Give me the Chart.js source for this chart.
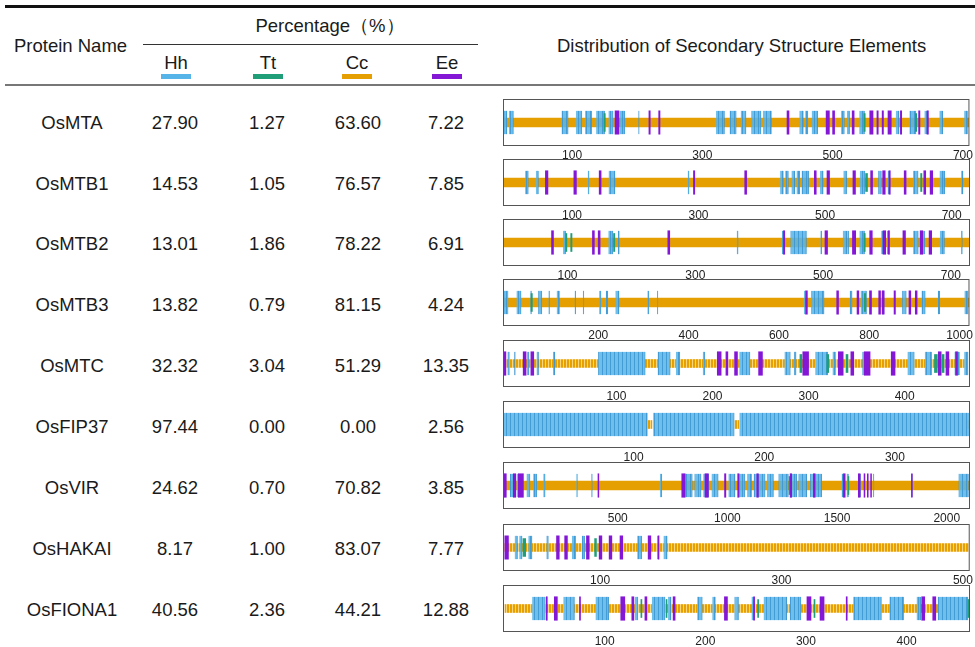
<!DOCTYPE html>
<html>
<head>
<meta charset="utf-8">
<script src="https://cdn.jsdelivr.net/npm/chart.js@4.4.1/dist/chart.umd.min.js"></script>
<style>
  body { margin: 0; background: #fff; font-family: "Liberation Sans", Arial, sans-serif; color: #1a1a1a; }
  #page { position: relative; width: 975px; height: 647px; overflow: hidden; }
  .abs { position: absolute; white-space: nowrap; }
  .cell { position: absolute; width: 120px; height: 20px; line-height: 20px; font-size: 18.5px; text-align: center; }
  .head { font-size: 18.5px; height: 20px; line-height: 20px; }
  .rule { position: absolute; }
  .sw { position: absolute; width: 30px; height: 5px; }
</style>
</head>
<body>
<div id="page">
  <div class="rule" style="left:5px;top:5px;width:970px;height:3px;background:#111;"></div>
  <div class="abs head" style="left:14px;top:36px;">Protein Name</div>
  <div class="abs head" style="left:240px;top:16px;width:180px;text-align:center;">Percentage（%）</div>
  <div class="rule" style="left:143px;top:44px;width:335px;height:1px;background:#333;"></div>
  <div class="abs head" style="left:557px;top:36px;">Distribution of Secondary Structure Elements</div>
  <div class="rule" style="left:5px;top:84px;width:970px;height:2px;background:#777;"></div>
</div>

<script>
// table values
const proteins = ['OsMTA', 'OsMTB1', 'OsMTB2', 'OsMTB3', 'OsMTC', 'OsFIP37', 'OsVIR', 'OsHAKAI', 'OsFIONA1'];
const hhPct = [27.90, 14.53, 13.01, 13.82, 32.32, 97.44, 24.62, 8.17, 40.56];
const ttPct = [1.27, 1.05, 1.86, 0.79, 3.04, 0.00, 0.70, 1.00, 2.36];
const ccPct = [63.60, 76.57, 78.22, 81.15, 51.29, 0.00, 70.82, 83.07, 44.21];
const eePct = [7.22, 7.85, 6.91, 4.24, 13.35, 2.56, 3.85, 7.77, 12.88];
const legendLabels = ['Hh', 'Tt', 'Cc', 'Ee'];

// residue ranges of each element, per protein
const mtaHelix = [[-5,0],[3,10],[84,94],[106,115],[120,130],[137,150],[156,163],[173,181],[202,203],[321,334],[342,352],[359,367],[375,390],[393,406],[449,455],[458,462],[468,477],[513,518],[522,526],[541,549],[597,602],[618,628],[641,646],[664,669],[702,707]];
const mtaCoil = [[-5,709]];
const mtaStrand = [[166,172],[218,220],[233,235],[430,433],[490,495],[500,503],[530,533],[557,562],[568,570],[576,578],[585,590],[604,606],[632,634],[645,647]];
const mtaTurn = [[149,151],[548,550],[627,629]];
const mtaTicks = [100, 300, 500, 700];

const mtb1Helix = [[26,31],[43,47],[125,127],[158,168],[283,285],[429,434],[437,442],[447,452],[455,460],[463,474],[492,497],[529,534],[555,563],[584,589],[599,601],[639,647],[681,689],[715,718]];
const mtb1Coil = [[-8,728]];
const mtb1Strand = [[58,62],[103,107],[143,146],[292,294],[373,376],[483,486],[503,507],[544,548],[572,575],[591,595],[601,603],[625,628],[656,659],[666,670]];
const mtb1Turn = [[564,567],[651,653]];
const mtb1Ticks = [100, 300, 500, 700];

const mtb2Helix = [[93,97],[164,171],[179,181],[365,367],[436,438],[449,474],[496,498],[531,537],[538,540],[557,565],[591,594],[600,602],[641,649],[656,659],[683,690],[716,718]];
const mtb2Coil = [[-1,729]];
const mtb2Strand = [[75,78],[139,142],[148,151],[257,260],[438,440],[503,507],[546,551],[573,577],[594,598],[602,604],[625,629],[652,656],[666,670]];
const mtb2Turn = [[97,99],[105,107],[172,174],[564,566]];
const mtb2Ticks = [100, 300, 500, 700];

const mtb3Helix = [[-10,0],[19,29],[50,52],[67,75],[90,92],[108,114],[148,150],[166,168],[202,206],[217,221],[238,246],[309,312],[330,332],[656,658],[671,700],[757,762],[781,794],[800,802],[827,833],[873,882],[916,924],[952,956],[1011,1019]];
const mtb3Coil = [[-10,1021]];
const mtb3Strand = [[659,663],[728,732],[773,777],[801,805],[821,825],[829,833],[855,858],[888,892],[902,906]];
const mtb3Turn = [[51,54],[789,792]];
const mtb3Ticks = [200, 400, 600, 800, 1000];

const mtcHelix = [[-13,-11],[-6,-5],[7,9],[17,19],[34,36],[81,130],[143,156],[162,166],[190,192],[228,239],[275,281],[285,287],[307,320],[325,328],[356,358],[403,410],[421,428],[452,457],[462,466]];
const mtcCoil = [[-17,81],[130,143],[156,162],[166,190],[192,228],[239,275],[281,307],[320,325],[328,403],[410,421],[428,452],[457,462]];
const mtcStrand = [[-17,-15],[3,6],[11,14],[205,209],[214,216],[223,226],[248,252],[294,300],[331,336],[344,347],[358,364],[386,390],[435,438],[443,446],[453,455]];
const mtcTurn = [[291,293],[319,321],[339,341],[431,434],[439,441]];
const mtcTicks = [100, 200, 300, 400];

const fipHelix = [[0,110.5],[115,177],[181,357.5]];
const fipCoil = [[111,114],[177.5,180.5],[356,357.5]];
const fipStrand = [];
const fipTurn = [];
const fipTicks = [100, 200, 300];

const virHelix = [[-20,-10],[9,24],[39,50],[85,100],[115,131],[161,169],[312,316],[380,384],[693,701],[800,840],[850,880],[890,915],[928,958],[1005,1035],[1050,1080],[1090,1110],[1120,1172],[1180,1210],[1233,1278],[1285,1316],[1324,1362],[1377,1430],[1521,1529],[1544,1552],[1603,1607],[1664,1668],[1840,1843],[2054,2099]];
const virCoil = [[-20,2100]];
const virStrand = [[-18,-8],[24,35],[47,70],[410,414],[792,807],[898,913],[987,993],[1047,1053],[1134,1141],[1286,1293],[1392,1400],[1529,1537],[1597,1605],[1623,1627],[1638,1642],[1653,1657],[1839,1843]];
const virTurn = [[1281,1285],[1550,1554]];
const virTicks = [500, 1000, 1500, 2000];

const hakHelix = [[6,9],[11,14],[21,25],[41,43],[69,73],[80,83],[141,146],[163,164],[170,174]];
const hakCoil = [[-5,506]];
const hakStrand = [[-5,-1],[52,55],[61,64],[85,88],[99,102],[110,113],[122,125],[153,156],[164,165]];
const hakTurn = [[15,18],[94,96]];
const hakTicks = [100, 300, 500];

const fioHelix = [[28,41],[59,70],[91,104],[130,133],[147,160],[163,166],[192,197],[207,210],[229,233],[246,248],[258,281],[284,295],[347,375],[383,397],[410,414],[431,461]];
const fioCoil = [[1,28],[41,59],[70,91],[104,130],[133,147],[160,163],[166,192],[197,207],[210,229],[233,258],[281,284],[295,347],[375,383],[397,410],[414,431]];
const fioStrand = [[42,43],[50,53],[75,76],[116,120],[127,129],[140,142],[168,170],[219,222],[248,249],[301,305],[314,318],[340,341],[415,418],[426,429]];
const fioTurn = [[136,137],[161,162],[252,253],[308,309],[461,462]];
const fioTicks = [100, 200, 300, 400];

// axis limits (residues) of each track
const axisMin = [-6, -9, -1, -11, -18, 0, -23, -7, -1];
const axisMax = [710, 729, 730, 1022, 468, 357.5, 2106, 507.5, 463];

const tracks = [
    [mtaHelix, mtaCoil, mtaStrand, mtaTurn, mtaTicks],
    [mtb1Helix, mtb1Coil, mtb1Strand, mtb1Turn, mtb1Ticks],
    [mtb2Helix, mtb2Coil, mtb2Strand, mtb2Turn, mtb2Ticks],
    [mtb3Helix, mtb3Coil, mtb3Strand, mtb3Turn, mtb3Ticks],
    [mtcHelix, mtcCoil, mtcStrand, mtcTurn, mtcTicks],
    [fipHelix, fipCoil, fipStrand, fipTurn, fipTicks],
    [virHelix, virCoil, virStrand, virTurn, virTicks],
    [hakHelix, hakCoil, hakStrand, hakTurn, hakTicks],
    [fioHelix, fioCoil, fioStrand, fioTurn, fioTicks],
];

// layout
const rowCenters = [123, 183.5, 244, 305, 366, 427, 488, 549, 610];
const trackTops = [99, 159, 219, 279, 340, 401, 462, 524, 585];
const colCenters = [72, 175, 267, 358, 446];
const legendX = [176, 268, 357, 447];
const dashedCoil = [false, false, false, false, true, true, false, true, true];
const BOX_H = 47;

const HELIX = '#56B4E9', TURN = '#1f9e78', COIL = '#E69F00', STRAND = '#8416d6';
const legendColors = [HELIX, TURN, COIL, STRAND];

const page = document.getElementById('page');

function addText(txt, cx, cy, cls) {
    const d = document.createElement('div');
    d.className = cls;
    d.style.left = (cx - 60) + 'px';
    d.style.top = (cy - 10) + 'px';
    d.textContent = txt;
    page.appendChild(d);
}

// header legend
legendLabels.forEach((lab, i) => {
    const d = document.createElement('div');
    d.className = 'abs head';
    d.style.left = (legendX[i] - 30) + 'px';
    d.style.width = '60px';
    d.style.textAlign = 'center';
    d.style.top = '53px';
    d.textContent = lab;
    page.appendChild(d);
    const s = document.createElement('div');
    s.className = 'sw';
    s.style.left = (legendX[i] - 15) + 'px';
    s.style.top = '74px';
    s.style.background = legendColors[i];
    page.appendChild(s);
});

// table rows
proteins.forEach((p, i) => {
    addText(p, colCenters[0], rowCenters[i], 'cell');
    addText(hhPct[i].toFixed(2), colCenters[1], rowCenters[i], 'cell');
    addText(ttPct[i].toFixed(2), colCenters[2], rowCenters[i], 'cell');
    addText(ccPct[i].toFixed(2), colCenters[3], rowCenters[i], 'cell');
    addText(eePct[i].toFixed(2), colCenters[4], rowCenters[i], 'cell');
});

function stripe(colA, colB, w, lw) {
    const c = document.createElement('canvas');
    c.width = w; c.height = 4;
    const g = c.getContext('2d');
    g.fillStyle = colA; g.fillRect(0, 0, w, 4);
    g.fillStyle = colB; g.fillRect(w - lw, 0, lw, 4);
    return g.createPattern(c, 'repeat');
}

const helixFill = stripe('rgba(86,180,233,0.85)', 'rgba(60,150,210,0.85)', 4, 1);
const coilDash = stripe('#E8A000', 'rgba(250,220,140,0.9)', 3, 1);

const framePlugin = {
    id: 'frame',
    afterDraw(chart) {
        const a = chart.chartArea;
        const ctx = chart.ctx;
        ctx.save();
        ctx.strokeStyle = '#555';
        ctx.lineWidth = 1;
        ctx.strokeRect(a.left + 0.5, a.top + 0.5, a.right - a.left - 1, a.bottom - a.top - 1);
        ctx.restore();
    }
};

Chart.defaults.font.family = "'Liberation Sans', Arial, sans-serif";
Chart.defaults.color = '#222';

function segs(list) {
    return list.map(s => ({x: s, y: 0}));
}

tracks.forEach((t, i) => {
    const [helix, coil, strand, turn, tickVals] = t;
    const holder = document.createElement('div');
    holder.style.position = 'absolute';
    holder.style.left = '495px';
    holder.style.top = (trackTops[i] - 4) + 'px';
    const cv = document.createElement('canvas');
    cv.width = 480; cv.height = 72;
    holder.appendChild(cv);
    page.appendChild(holder);

    const common = {grouped: false, barPercentage: 1, categoryPercentage: 1, borderWidth: 0};
    new Chart(cv.getContext('2d'), {
        type: 'bar',
        data: {
            datasets: [
                Object.assign({label: 'Cc', data: segs(coil), backgroundColor: dashedCoil[i] ? coilDash : COIL,
                    maxBarThickness: dashedCoil[i] ? 8 : 9, order: 4}, common),
                Object.assign({label: 'Hh', data: segs(helix), backgroundColor: helixFill,
                    borderColor: 'rgba(50,140,200,0.9)', maxBarThickness: BOX_H, order: 3}, common,
                    {borderWidth: {left: 0.7, right: 0.7, top: 0, bottom: 0}}),
                Object.assign({label: 'Tt', data: segs(turn), backgroundColor: TURN,
                    maxBarThickness: 18, order: 2}, common),
                Object.assign({label: 'Ee', data: segs(strand), backgroundColor: STRAND,
                    maxBarThickness: 30, order: 1}, common),
            ]
        },
        options: {
            indexAxis: 'y',
            responsive: false,
            animation: false,
            layout: {padding: {left: 8, right: 5, top: 4, bottom: 3}},
            scales: {
                y: {
                    type: 'linear', min: -1, max: 1, display: false,
                    afterBuildTicks: (axis) => { axis.ticks = [{value: -1}, {value: 1}]; }
                },
                x: {
                    type: 'linear', position: 'bottom',
                    min: axisMin[i], max: axisMax[i],
                    grid: {display: false, drawTicks: false},
                    border: {display: false},
                    afterBuildTicks: (axis) => { axis.ticks = tickVals.map(v => ({value: v})); },
                    afterFit: (s) => { s.height = 18; },
                    ticks: {
                        autoSkip: false, maxRotation: 0, minRotation: 0, padding: 2,
                        color: '#222', font: {size: 12},
                        callback: (v) => String(v)
                    }
                }
            },
            plugins: {
                legend: {display: false},
                tooltip: {enabled: true}
            }
        },
        plugins: [framePlugin]
    });
});
</script>
</body>
</html>
